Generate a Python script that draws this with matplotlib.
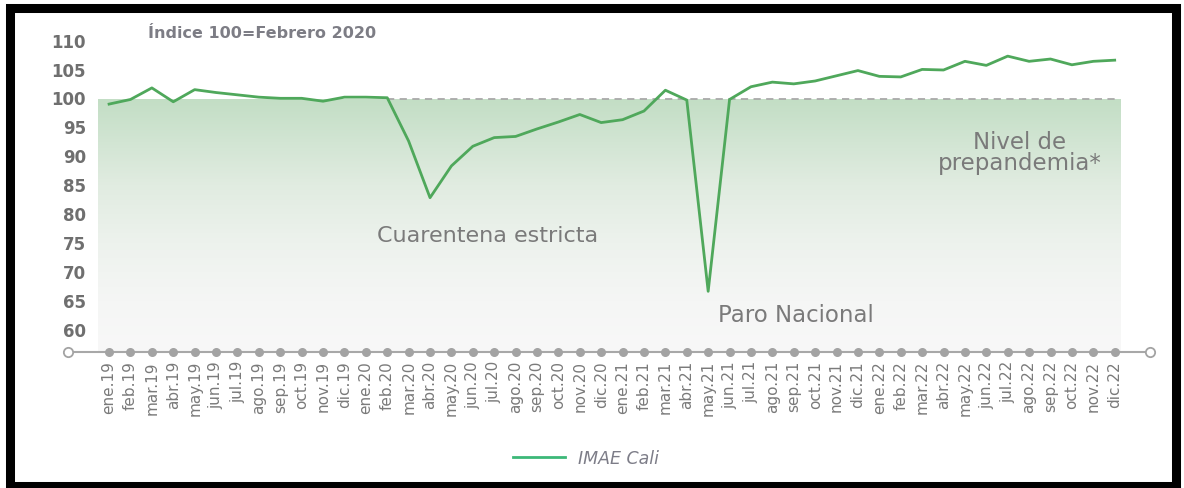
import numpy as np
import matplotlib.pyplot as plt
from matplotlib.colors import LinearSegmentedColormap
from matplotlib.patches import Rectangle

# Data
months = ["ene", "feb", "mar", "abr", "may", "jun",
          "jul", "ago", "sep", "oct", "nov", "dic"]
years = ["19", "20", "21", "22"]
labels = [f"{m}.{y}" for y in years for m in months]

imae_2019 = [99.2, 100.0, 102.0, 99.6, 101.7, 101.2, 100.8, 100.4, 100.2, 100.2, 99.7, 100.4]
imae_2020 = [100.4, 100.3, 92.8, 83.0, 88.5, 91.9, 93.4, 93.6, 94.9, 96.1, 97.4, 96.0]
imae_2021 = [96.5, 98.0, 101.6, 99.9, 66.8, 100.0, 102.2, 103.0, 102.7, 103.2, 104.1, 105.0]
imae_2022 = [104.0, 103.9, 105.2, 105.1, 106.6, 105.9, 107.5, 106.6, 107.0, 106.0, 106.6, 106.8]
imae = np.array(imae_2019 + imae_2020 + imae_2021 + imae_2022)

y_ticks = [60, 65, 70, 75, 80, 85, 90, 95, 100, 105, 110]
base_level = 100

grey = "#7a7a7a"
green = "#4fa85b"

W, H = 1184, 489
fig = plt.figure(figsize=(W / 100, H / 100), dpi=100)
fig.patch.set_facecolor("white")

x0, x1 = -1.92, 48.65
y0, y1 = 56.3, 111.0
ax = fig.add_axes([68 / W, 1 - 353 / H, (1150 - 68) / W, (353 - 36.9) / H])
ax.set_xlim(x0, x1)
ax.set_ylim(y0, y1)
ax.axis("off")

x = np.arange(len(imae))

# gradient fill below the pre-pandemic level
cmap = LinearSegmentedColormap.from_list(
    "fillgrad", [(0.0, "#f8f8f8"), (0.2, "#f5f6f5"), (0.43, "#edf2ed"),
                 (0.66, "#e1ece1"), (1.0, "#c3dec5")])
grad = np.linspace(0, 1, 256).reshape(-1, 1)
ax.imshow(grad, cmap=cmap, aspect="auto", origin="lower",
          extent=[-0.53, len(imae) - 0.73, y0, base_level], zorder=0)

# dashed pre-pandemic reference line (from feb.20)
ax.plot([13, len(imae) - 0.73], [base_level, base_level], color="#a9a9a9",
        lw=1.3, ls=(0, (4, 3)), zorder=1)

# data line
ax.plot(x, imae, color=green, lw=2, zorder=3, label="IMAE Cali")

# category axis with dots
ax.plot([x0, x1], [y0, y0], color="#a8a8a8", lw=1.5, clip_on=False, zorder=2)
ax.scatter(x, np.full(len(x), y0), s=30, color="#a3a3a3", clip_on=False, zorder=3)
ax.scatter([x0, x1], [y0, y0], s=45, facecolor="white", edgecolor="#a3a3a3",
           lw=1.3, clip_on=False, zorder=4)

# y labels
for v in y_ticks:
    ax.text(-1.07, v, str(v), ha="right", va="center", fontsize=12,
            fontweight="bold", color="#6f6f6f")

# x labels
for i, lab in enumerate(labels):
    ax.text(i, y0 - 1.4, lab, rotation=90, ha="center", va="top",
            fontsize=11, color=grey)

# annotations
fig.text(148 / W, 1 - 33 / H, "Índice 100=Febrero 2020", ha="left", va="center",
         fontsize=11.5, fontweight="bold", color="#7d7d85")
fig.text(377 / W, 1 - 236 / H, "Cuarentena estricta", ha="left", va="center",
         fontsize=16, color=grey)
fig.text(718 / W, 1 - 316 / H, "Paro Nacional", ha="left", va="center",
         fontsize=16.5, color=grey)
fig.text(1020 / W, 1 - 153 / H, "Nivel de\nprepandemia*", ha="center", va="center",
         fontsize=16.5, color=grey, linespacing=0.87)

# legend
leg = fig.legend(loc="center", bbox_to_anchor=(586 / W, 1 - 459 / H), frameon=False,
                 handlelength=3, fontsize=12.5)
leg.get_lines()[0].set_color("#3cb878")
for t in leg.get_texts():
    t.set_color("#7d7d88")
    t.set_fontstyle("italic")

# black frame around the chart
fig.patches.append(Rectangle((9.5 / W, 1 - 487 / H), (1176 - 9.5) / W, (487 - 9) / H,
                             transform=fig.transFigure, fill=False,
                             edgecolor="black", lw=6.5, zorder=10))

fig.savefig("out.png", dpi=100, facecolor="white")
